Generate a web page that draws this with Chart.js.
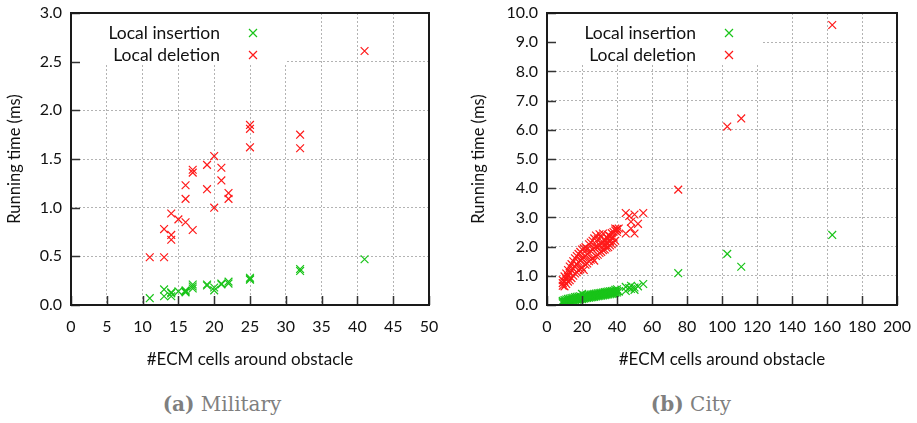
<!DOCTYPE html>
<html>
<head>
<meta charset="utf-8">
<script src="https://cdn.jsdelivr.net/npm/chart.js@4.4.1/dist/chart.umd.min.js"></script>
<style>
  body { margin: 0; width: 917px; height: 423px; background: #fff; position: relative; overflow: hidden; }
  canvas { position: absolute; top: 0; }
  .caption { position: absolute; top: 393px; line-height: 22px; font-family: 'DejaVu Serif', serif; font-size: 20px; color: #7f7f7f; text-align: center; }
  .caption b { font-weight: bold; }
</style>
</head>
<body>
<canvas id="military" width="458" height="375" style="left:0"></canvas>
<canvas id="city" width="458" height="375" style="left:459px"></canvas>
<div class="caption" style="left:0;width:444px"><b>(a)</b> Military</div>
<div class="caption" style="left:464px;width:454px"><b>(b)</b> City</div>
<script>
// Military map: number of ECM cells around the obstacle vs. running time (ms)
const militaryCells = [11, 13, 13, 14, 14, 14, 15, 16, 16, 16, 17, 17, 17, 19, 19, 20, 20, 21, 21, 22, 22, 25, 25, 25, 32, 32, 41];
const militaryInsertion = [0.07, 0.16, 0.09, 0.12, 0.09, 0.13, 0.14, 0.14, 0.13, 0.15, 0.19, 0.17, 0.21, 0.21, 0.20, 0.18, 0.15, 0.21, 0.22, 0.24, 0.22, 0.27, 0.26, 0.28, 0.37, 0.35, 0.47];
const militaryDeletion = [0.49, 0.49, 0.78, 0.72, 0.67, 0.94, 0.88, 0.85, 1.09, 1.23, 0.77, 1.36, 1.39, 1.44, 1.19, 1.53, 1.00, 1.41, 1.28, 1.15, 1.09, 1.85, 1.81, 1.62, 1.75, 1.61, 2.61];

// City map
const cityCells = [
  9, 9, 9, 10, 10, 10, 11, 11, 11, 12, 12, 12, 13, 13, 13, 14, 14, 14, 15, 15, 15, 16, 16, 16,
  17, 17, 17, 18, 18, 18, 19, 19, 19, 20, 20, 20, 21, 21, 21, 22, 22, 22, 23, 23, 23, 24, 24, 24,
  25, 25, 25, 26, 26, 26, 27, 27, 27, 28, 28, 28, 29, 29, 29, 30, 30, 30, 31, 31, 31, 32, 32, 32,
  33, 33, 33, 34, 34, 34, 35, 35, 35, 36, 36, 36, 37, 37, 37, 38, 38, 38, 39, 39, 39, 40, 40, 40,
  41, 45, 45, 47, 48, 48, 50, 50, 52, 55, 75, 103, 111, 163
];
const cityInsertion = [
  0.10, 0.14, 0.06, 0.12, 0.17, 0.08, 0.13, 0.19, 0.10, 0.15, 0.21, 0.11, 0.16, 0.22, 0.12, 0.18, 0.24, 0.14,
  0.19, 0.25, 0.15, 0.20, 0.16, 0.27, 0.22, 0.28, 0.18, 0.23, 0.18, 0.29, 0.24, 0.30, 0.20, 0.25, 0.20, 0.38,
  0.26, 0.32, 0.22, 0.27, 0.23, 0.33, 0.28, 0.34, 0.24, 0.29, 0.25, 0.35, 0.30, 0.36, 0.26, 0.31, 0.27, 0.37,
  0.32, 0.38, 0.28, 0.33, 0.29, 0.39, 0.34, 0.40, 0.30, 0.35, 0.31, 0.41, 0.36, 0.42, 0.32, 0.37, 0.33, 0.43,
  0.38, 0.44, 0.34, 0.39, 0.35, 0.45, 0.40, 0.46, 0.36, 0.41, 0.37, 0.47, 0.42, 0.48, 0.38, 0.43, 0.39, 0.49,
  0.45, 0.52, 0.41, 0.48, 0.54, 0.43,
  0.46, 0.62, 0.48, 0.58, 0.55, 0.66, 0.60, 0.52, 0.64, 0.72, 1.09, 1.75, 1.31, 2.40
];
const cityDeletion = [
  0.66, 0.85, 0.75, 0.64, 0.98, 0.80, 0.72, 1.08, 0.90, 0.80, 1.20, 0.98, 0.85, 1.32, 1.10, 0.92, 1.40, 1.18,
  1.00, 1.50, 1.25, 1.08, 1.60, 1.32, 1.12, 1.68, 1.40, 1.18, 1.75, 1.48, 1.22, 1.82, 1.52, 1.28, 1.90, 1.58,
  1.20, 1.94, 1.62, 1.38, 1.98, 1.68, 1.42, 1.92, 1.75, 1.50, 2.08, 1.80, 1.55, 2.14, 1.85, 1.60, 2.20, 1.90,
  1.52, 2.28, 1.95, 1.68, 2.38, 2.00, 1.72, 2.25, 1.98, 1.78, 2.42, 2.05, 1.82, 2.32, 2.10, 1.88, 2.45, 2.15,
  1.90, 2.22, 2.05, 1.96, 2.32, 2.12, 1.98, 2.26, 2.40, 2.04, 2.36, 2.18, 2.08, 2.30, 2.46, 2.14, 2.32, 2.50,
  2.20, 2.55, 2.62, 2.50, 2.60, 2.58,
  2.62, 3.15, 2.45, 3.05, 2.85, 2.62, 2.45, 3.10, 2.78, 3.15, 3.95, 6.11, 6.39, 9.59
];

const seriesNames = ['Local insertion', 'Local deletion'];
const seriesColors = ['#19c419', '#ff1a1a'];

const FONT = 'Lato, "Open Sans", sans-serif';

function toPoints(xs, ys) {
  return xs.map((x, i) => ({ x: x, y: ys[i] }));
}

function drawCross(ctx, x, y, r, color) {
  ctx.save();
  ctx.strokeStyle = color;
  ctx.lineWidth = 1.2;
  ctx.beginPath();
  ctx.moveTo(x - r, y - r); ctx.lineTo(x + r, y + r);
  ctx.moveTo(x - r, y + r); ctx.lineTo(x + r, y - r);
  ctx.stroke();
  ctx.restore();
}

// gnuplot-like frame: white key box over the grid, closed border, inward ticks, key on the left
const framePlugin = {
  id: 'gnuFrame',
  beforeDatasetsDraw(chart) {
    const { ctx, chartArea: a } = chart;
    ctx.save();
    ctx.fillStyle = '#fff';
    ctx.fillRect(a.left + 1, a.top + 1, 214, 51);
    ctx.restore();
  },
  afterDatasetsDraw(chart) {
    const { ctx, chartArea: a, scales } = chart;
    ctx.save();
    // inward tick marks
    ctx.strokeStyle = '#333';
    ctx.lineWidth = 1.5;
    ctx.beginPath();
    scales.y.ticks.forEach(t => {
      const py = Math.round(scales.y.getPixelForValue(t.value)) + 0.5;
      ctx.moveTo(a.left, py); ctx.lineTo(a.left + 9, py);
    });
    scales.x.ticks.forEach(t => {
      const px = Math.round(scales.x.getPixelForValue(t.value)) + 0.5;
      ctx.moveTo(px, a.bottom); ctx.lineTo(px, a.bottom - 9);
    });
    ctx.stroke();
    // border
    ctx.strokeStyle = '#1a1a1a';
    ctx.lineWidth = 2;
    ctx.strokeRect(a.left, a.top, a.right - a.left, a.bottom - a.top);
    // key
    ctx.font = '17.5px ' + FONT;
    ctx.fillStyle = '#111';
    ctx.textAlign = 'right';
    ctx.textBaseline = 'middle';
    chart.data.datasets.forEach((ds, i) => {
      const ky = a.top + 20 + i * 22;
      ctx.fillText(ds.label, a.left + 149, ky);
      drawCross(ctx, a.left + 182, ky, 4, ds.borderColor);
    });
    ctx.restore();
  }
};

function makeChart(id, cells, insertion, deletion, cfg) {
  new Chart(document.getElementById(id), {
    type: 'scatter',
    data: {
      datasets: [
        { label: seriesNames[0], data: toPoints(cells, insertion), borderColor: seriesColors[0], backgroundColor: seriesColors[0] },
        { label: seriesNames[1], data: toPoints(cells, deletion), borderColor: seriesColors[1], backgroundColor: seriesColors[1] }
      ]
    },
    options: {
      responsive: false,
      animation: false,
      layout: { padding: { top: 13, right: cfg.rightPad, left: 0, bottom: 0 } },
      elements: { point: { pointStyle: 'crossRot', radius: 5.5, borderWidth: 1.2, hoverRadius: 5.5 } },
      plugins: { legend: { display: false }, tooltip: { enabled: false } },
      scales: {
        x: {
          type: 'linear', min: 0, max: cfg.xMax,
          // fixed axis band; edge labels may overhang without shrinking the plot
          afterFit: s => { s.height = 70; s.paddingLeft = 0; s.paddingRight = 0; },
          ticks: { stepSize: cfg.xStep, autoSkip: false, maxRotation: 0, padding: 12, color: '#111', font: { family: FONT, size: 16 } },
          grid: { color: '#b3b3b3', drawTicks: false },
          border: { display: false, dash: [2, 2] },
          title: { display: true, text: '#ECM cells around obstacle', color: '#111', font: { family: FONT, size: 17 }, padding: { top: 0, bottom: 5 } }
        },
        y: {
          min: 0, max: cfg.yMax,
          afterFit: s => { s.width = cfg.yWidth; s.paddingTop = 0; s.paddingBottom = 0; },
          ticks: { stepSize: cfg.yStep, autoSkip: false, padding: 9, color: '#111', font: { family: FONT, size: 16 }, callback: v => v.toFixed(1) },
          grid: { color: '#b3b3b3', drawTicks: false },
          border: { display: false, dash: [2, 2] },
          title: { display: true, text: 'Running time (ms)', color: '#111', font: { family: FONT, size: 16.5 }, padding: { top: cfg.titlePad, bottom: 0 } }
        }
      }
    },
    plugins: [framePlugin]
  });
}

makeChart('military', militaryCells, militaryInsertion, militaryDeletion,
  { xMax: 50, xStep: 5, yMax: 3, yStep: 0.5, yWidth: 71, rightPad: 29, titlePad: 5 });
makeChart('city', cityCells, cityInsertion, cityDeletion,
  { xMax: 200, xStep: 20, yMax: 10, yStep: 1, yWidth: 88, rightPad: 20, titlePad: 10 });
</script>
</body>
</html>
